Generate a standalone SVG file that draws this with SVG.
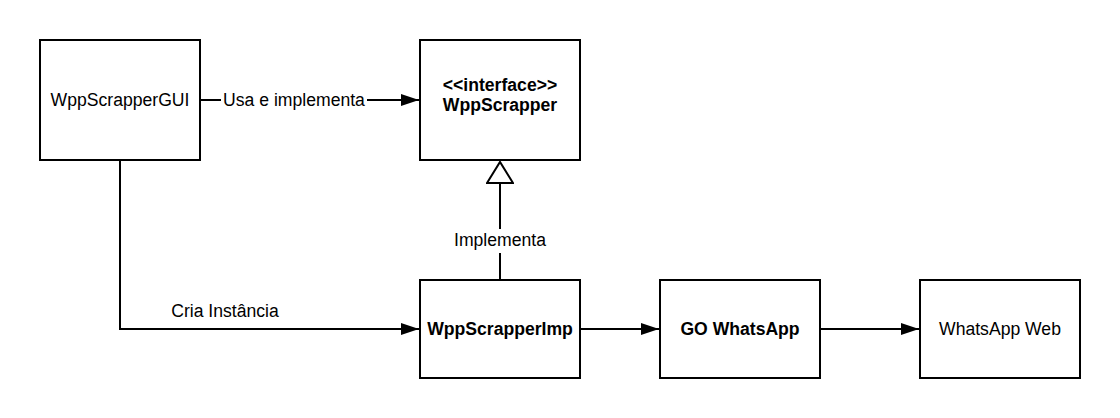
<svg xmlns="http://www.w3.org/2000/svg" width="1120" height="418" viewBox="0 0 1120 418">
<defs>
<style>
.box{fill:#fff;stroke:#000;stroke-width:2}
.edge{fill:none;stroke:#000;stroke-width:2}
.t{font-family:"Liberation Sans",Arial,sans-serif;font-size:17.6px;fill:#000;text-anchor:middle}
.b{font-weight:bold}
.lbg{fill:#fff}
</style>
<marker id="arrow" viewBox="0 0 18 12" refX="18" refY="6" markerWidth="18" markerHeight="12" markerUnits="userSpaceOnUse" orient="auto">
<path d="M0,0 L18,6 L0,12 z" fill="#000"/>
</marker>
<marker id="hollow" viewBox="-1 -1 24 28" refX="21" refY="13" markerWidth="24" markerHeight="28" markerUnits="userSpaceOnUse" orient="auto">
<path d="M0,0 L21,13 L0,26 z" fill="#fff" stroke="#000" stroke-width="2"/>
</marker>
</defs>
<rect width="1120" height="418" fill="#fff"/>
<g id="connectors">
<path class="edge" d="M200,100 L419,100" marker-end="url(#arrow)"/>
<rect class="lbg" x="221" y="88" width="146" height="24"/>
<text class="t" x="294" y="106">Usa e implementa</text>
<path class="edge" d="M120,160 L120,329 L419,329" marker-end="url(#arrow)"/>
<text class="t" x="225" y="317">Cria Instância</text>
<path class="edge" d="M500,280 L500,162" marker-end="url(#hollow)"/>
<rect class="lbg" x="450" y="229" width="100" height="24"/>
<text class="t" x="500" y="246">Implementa</text>
<path class="edge" d="M580,329 L659,329" marker-end="url(#arrow)"/>
<path class="edge" d="M820,329 L919,329" marker-end="url(#arrow)"/>
</g>
<g id="node-gui">
<rect class="box" x="40" y="40" width="160" height="120"/>
<text class="t" x="120" y="106">WppScrapperGUI</text>
</g>
<g id="node-interface">
<rect class="box" x="420" y="40" width="160" height="120"/>
<text class="t b" x="500" y="91">&lt;&lt;interface&gt;&gt;</text>
<text class="t b" x="500" y="110.5">WppScrapper</text>
</g>
<g id="node-imp">
<rect class="box" x="420" y="280" width="160" height="98"/>
<text class="t b" x="500" y="335">WppScrapperImp</text>
</g>
<g id="node-go">
<rect class="box" x="660" y="280" width="160" height="98"/>
<text class="t b" x="740" y="335">GO WhatsApp</text>
</g>
<g id="node-web">
<rect class="box" x="920" y="280" width="160" height="98"/>
<text class="t" x="1000" y="335">WhatsApp Web</text>
</g>
</svg>
